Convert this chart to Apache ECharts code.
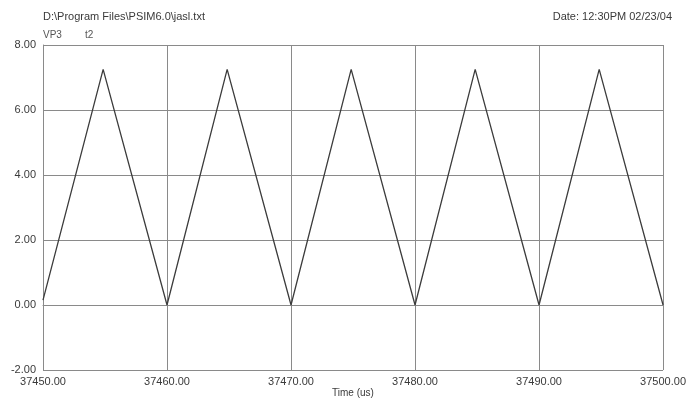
<!DOCTYPE html>
<html>
<head>
<meta charset="utf-8">
<script src="https://cdn.jsdelivr.net/npm/echarts@6/dist/echarts.min.js"></script>
<style>
  html, body { margin: 0; padding: 0; background: #fff; }
  #chart { width: 689px; height: 401px; }
</style>
</head>
<body>
<div id="chart"></div>
<script>
// Triangle waveform VP3 (t2), sampled at its corners
const timeUs = [37450, 37454.85, 37460, 37464.85, 37470, 37474.85, 37480, 37484.85, 37490, 37494.85, 37500];
const vp3    = [0.15,  7.25,     0.0,   7.25,     0.0,   7.25,     0.0,   7.25,     0.0,   7.25,     0.0];

const xTicks = { min: 37450, max: 37500, step: 10 };
const yTicks = { min: -2, max: 8, step: 2 };

const fileLabel = 'D:\\Program Files\\PSIM6.0\\jasl.txt';
const dateLabel = 'Date: 12:30PM 02/23/04';
const curveLabels = ['VP3', 't2'];
const xAxisTitle = 'Time (us)';

const points = timeUs.map((t, i) => [t, vp3[i]]);

const font = 'Liberation Sans, Arial, sans-serif';
const textColor = '#3a3a3a';
const gridColor = '#8a8a8a';

const chart = echarts.init(document.getElementById('chart'), null, { renderer: 'canvas' });
chart.setOption({
  animation: false,
  backgroundColor: '#ffffff',
  grid: { left: 43, right: 24, top: 45, bottom: 31, containLabel: false },
  xAxis: {
    type: 'value',
    min: xTicks.min, max: xTicks.max, interval: xTicks.step,
    axisLine: { show: true, lineStyle: { color: gridColor, width: 1 } },
    axisTick: { show: false },
    axisLabel: {
      color: textColor, fontFamily: font, fontSize: 11, margin: 6,
      formatter: v => v.toFixed(2)
    },
    splitLine: { show: true, lineStyle: { color: gridColor, width: 1 } }
  },
  yAxis: {
    type: 'value',
    min: yTicks.min, max: yTicks.max, interval: yTicks.step,
    axisLine: { show: true, lineStyle: { color: gridColor, width: 1 } },
    axisTick: { show: false },
    axisLabel: {
      color: textColor, fontFamily: font, fontSize: 11, margin: 7,
      formatter: v => v.toFixed(2)
    },
    splitLine: { show: true, lineStyle: { color: gridColor, width: 1 } }
  },
  series: [{
    type: 'line',
    data: points,
    showSymbol: false,
    lineStyle: { color: '#3c3c3c', width: 1.3 },
    z: 5
  }],
  graphic: [
    { type: 'text', left: 43, top: 11,
      style: { text: fileLabel, fill: textColor, font: '11px ' + font } },
    { type: 'text', right: 17, top: 11,
      style: { text: dateLabel, fill: textColor, font: '11px ' + font } },
    { type: 'text', left: 43, top: 30,
      style: { text: curveLabels[0], fill: '#555', font: '10px ' + font } },
    { type: 'text', left: 85, top: 30,
      style: { text: curveLabels[1], fill: '#555', font: '10px ' + font } },
    { type: 'text', left: 332, top: 388,
      style: { text: xAxisTitle, fill: textColor, font: '10px ' + font } }
  ]
});
</script>
</body>
</html>
